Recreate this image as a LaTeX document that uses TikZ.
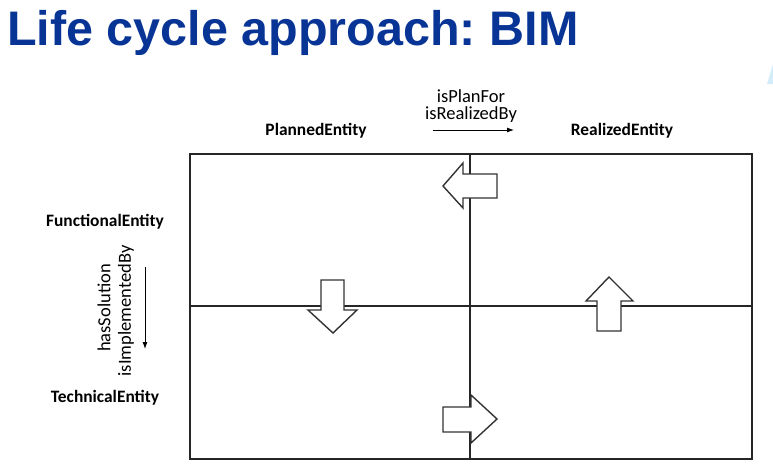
\documentclass[tikz,border=0pt]{standalone}
\usepackage{fontspec}
\setmainfont{Carlito}
\newfontfamily\titlefont{Liberation Sans}
\usetikzlibrary{arrows.meta}
\frenchspacing

\begin{document}
\begin{tikzpicture}[x=1pt, y=-1pt]
    % Define styles for labels, grid and block arrows
    \tikzset{
        entitylabel/.style={font=\fontsize{17.4}{19}\selectfont\bfseries, inner sep=0pt},
        rellabel/.style={font=\fontsize{18.5}{20}\selectfont, inner sep=0pt},
        gridline/.style={draw=black!85, line width=1.3pt},
        blockarrow/.style={draw=black!80, fill=white, line width=1.4pt, line join=miter},
        relarrow/.style={draw=black, line width=0.9pt, -{Latex[length=7pt, width=5pt]}}
    }
    \definecolor{titleblue}{RGB}{8,52,150}
    \definecolor{paleblue}{RGB}{212,236,249}

    \useasboundingbox (0,0) rectangle (773,474);

    % ==========================================
    % TITLE
    % ==========================================
    \node[anchor=base west, inner sep=0pt, text=titleblue,
          font=\titlefont\fontsize{48.5}{52}\selectfont\bfseries] (title) at (7,45) {Life cycle approach: BIM};
    \fill[paleblue] (773,64) -- (767,84) -- (773,84) -- cycle;

    % ==========================================
    % GRID
    % ==========================================
    \draw[gridline] (190,154) rectangle (752,459);
    \draw[gridline] (470,154) -- (470,459);
    \draw[gridline] (190,306) -- (752,306);

    % ==========================================
    % LABELS
    % ==========================================
    \node[entitylabel] (planned) at (316,131) {PlannedEntity};
    \node[entitylabel] (realized) at (622,131) {RealizedEntity};
    \node[entitylabel] (functional) at (105,222) {FunctionalEntity};
    \node[entitylabel] (technical) at (105,398) {TechnicalEntity};

    % horizontal relation
    \node[rellabel] (planfor) at (471,96) {isPlanFor};
    \node[rellabel] (realizedby) at (471,115) {isRealizedBy};
    \coordinate (hstart) at (433,130);
    \coordinate (hend) at (514,130);
    \draw[relarrow] (hstart) -- (hend);

    % vertical relation
    \node[rellabel, rotate=90] (solution) at (104,308) {hasSolution};
    \node[rellabel, rotate=90] (implemented) at (126,311) {isImplementedBy};
    \coordinate (vstart) at (145,267);
    \coordinate (vend) at (145,349);
    \draw[relarrow] (vstart) -- (vend);

    % ==========================================
    % BLOCK ARROWS
    % ==========================================
    % left (top middle)
    \draw[blockarrow] (443,186) -- (463,163) -- (463,174) -- (497,174) -- (497,198)
        -- (463,198) -- (463,208) -- cycle;
    % right (bottom middle)
    \draw[blockarrow] (497,419) -- (471,443) -- (471,432) -- (443,432) -- (443,407)
        -- (471,407) -- (471,395) -- cycle;
    % down (left middle)
    \draw[blockarrow] (333,333) -- (308,310) -- (321,310) -- (321,280) -- (344,280)
        -- (344,310) -- (357,310) -- cycle;
    % up (right middle)
    \draw[blockarrow] (609,277) -- (633,301) -- (621,301) -- (621,331) -- (597,331)
        -- (597,301) -- (586,301) -- cycle;

\end{tikzpicture}
\end{document}
